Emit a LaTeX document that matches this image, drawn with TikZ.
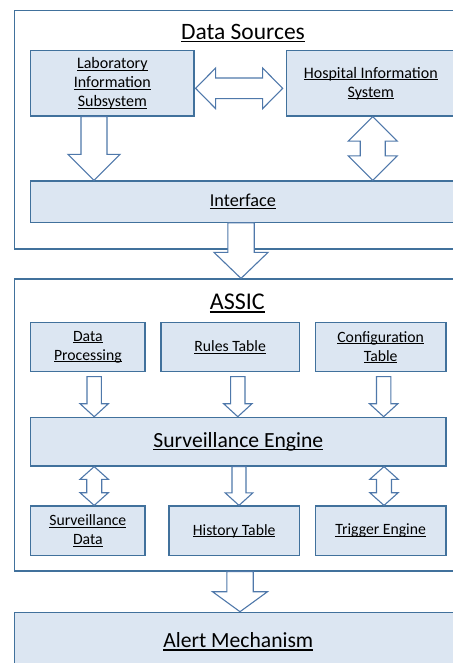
\documentclass[tikz,border=0pt]{standalone}
\usepackage{fontspec}
\setmainfont{Carlito}
\usetikzlibrary{calc}
\definecolor{lineBlue}{RGB}{65,113,156}
\definecolor{boxBlue}{RGB}{220,230,242}
\definecolor{arrowBlue}{RGB}{79,120,170}
\tikzstyle{canvas} = [x = 1pt, y = -1pt]
\tikzstyle{boxStyle} = [draw=lineBlue, fill=boxBlue, line width=1.2pt, align=center, inner sep=0pt]
\tikzstyle{frameStyle} = [draw=lineBlue, line width=1.2pt, inner sep=0pt]
\tikzstyle{blockArrowStyle} = [draw=arrowBlue, fill=white, line width=1.1pt, line join=miter]
\tikzstyle{sourceText} = [font=\fontsize{16}{19.2}\selectfont]
\tikzstyle{smallText} = [font=\fontsize{15.7}{19}\selectfont]
\tikzstyle{midText} = [font=\fontsize{18.2}{22}\selectfont]
\tikzstyle{bigText} = [font=\fontsize{21.6}{26}\selectfont]
\tikzstyle{titleText} = [font=\fontsize{23.5}{28}\selectfont]
\newcommand{\ulText}[1]{\leavevmode\setbox0\hbox{#1}\rlap{\vrule width \wd0 height -0.07em depth 0.125em}\box0}
\newcommand{\downBlockArrow}[5]{\draw [blockArrowStyle] let \p1 = (#1), \p2 = (#2) in (\x1 - #3pt, \y1) -- (\x1 - #3pt, \y2 + #5pt) -- (\x1 - #4pt, \y2 + #5pt) -- (\x1, \y2) -- (\x1 + #4pt, \y2 + #5pt) -- (\x1 + #3pt, \y2 + #5pt) -- (\x1 + #3pt, \y1) -- cycle;}
\newcommand{\doubleBlockArrow}[5]{\draw [blockArrowStyle] let \p1 = (#1), \p2 = (#2) in (\x1, \y1) -- (\x1 + #4pt, \y1 - #5pt) -- (\x1 + #3pt, \y1 - #5pt) -- (\x1 + #3pt, \y2 + #5pt) -- (\x1 + #4pt, \y2 + #5pt) -- (\x1, \y2) -- (\x1 - #4pt, \y2 + #5pt) -- (\x1 - #3pt, \y2 + #5pt) -- (\x1 - #3pt, \y1 - #5pt) -- (\x1 - #4pt, \y1 - #5pt) -- cycle;}
\newcommand{\sideBlockArrow}[5]{\draw [blockArrowStyle] let \p1 = (#1), \p2 = (#2) in (\x1, \y1) -- (\x1 + #5pt, \y1 + #4pt) -- (\x1 + #5pt, \y1 + #3pt) -- (\x2 - #5pt, \y1 + #3pt) -- (\x2 - #5pt, \y1 + #4pt) -- (\x2, \y1) -- (\x2 - #5pt, \y1 - #4pt) -- (\x2 - #5pt, \y1 - #3pt) -- (\x1 + #5pt, \y1 - #3pt) -- (\x1 + #5pt, \y1 - #4pt) -- cycle;}

\begin{document}
\begin{tikzpicture}[canvas]
              \useasboundingbox (0,0) rectangle (452,663);

              \node [frameStyle, minimum width=455.7pt, minimum height=238.3pt] (dsFrame) at (242.15,129.85) {};
              \node [titleText] (dsTitle) at (243,33) {\ulText{Data Sources}};
              \node [boxStyle, sourceText, minimum width=163.3pt, minimum height=65.3pt] (lab) at (112.35,83.35) {\ulText{Laboratory}\\\ulText{Information}\\\ulText{Subsystem}};
              \node [boxStyle, sourceText, minimum width=168.3pt, minimum height=65.3pt] (hosp) at (370.8,83.35) {\ulText{Hospital Information}\\\ulText{System}};
              \node [boxStyle, midText, minimum width=424.3pt, minimum height=41.3pt] (iface) at (242.85,201.65) {\ulText{Interface}};

              \node [frameStyle, minimum width=455.7pt, minimum height=292pt] (assicFrame) at (242.15,425) {};
              \node [titleText, font=\fontsize{24}{28}\selectfont] (assicTitle) at (237.3,303.3) {\ulText{ASSIC}};
              \node [boxStyle, smallText, minimum width=114.3pt, minimum height=49pt] (proc) at (87.85,347.2) {\ulText{Data}\\\ulText{Processing}};
              \node [boxStyle, smallText, minimum width=138.3pt, minimum height=49pt] (rules) at (230.15,347.2) {\ulText{Rules Table}};
              \node [boxStyle, smallText, minimum width=130.7pt, minimum height=49pt] (config) at (380.65,347.2) {\ulText{Configuration}\\\ulText{Table}};
              \node [boxStyle, bigText, minimum width=415.3pt, minimum height=48.7pt] (engine) at (238.35,441.65) {\ulText{Surveillance Engine}};
              \node [boxStyle, smallText, minimum width=114.3pt, minimum height=49.7pt] (survData) at (87.85,530.85) {\ulText{Surveillance}\\\ulText{Data}};
              \node [boxStyle, smallText, minimum width=130.3pt, minimum height=49.7pt] (history) at (234.15,530.85) {\ulText{History Table}};
              \node [boxStyle, smallText, minimum width=130.7pt, minimum height=49.7pt] (trigger) at (380.65,530.85) {\ulText{Trigger Engine}};

              \node [boxStyle, bigText, minimum width=448pt, minimum height=58.8pt] (alert) at (238.3,641.7) {\ulText{Alert Mechanism}};

              \coordinate (labSide) at ([xshift=1pt, yshift=-5pt]lab.east);
              \coordinate (hospSide) at ([xshift=-3.4pt, yshift=-5pt]hosp.west);
              \coordinate (labOut) at ([xshift=-18.35pt]lab.south);
              \coordinate (hospOut) at ([xshift=1.9pt]hosp.south);
              \coordinate (ifaceOut) at ([xshift=-1.85pt]iface.south);
              \coordinate (procOut) at ([xshift=6.35pt, yshift=-4.3pt]proc.south);
              \coordinate (rulesOut) at ([xshift=7.65pt, yshift=-4.3pt]rules.south);
              \coordinate (configOut) at ([xshift=3pt, yshift=-4.3pt]config.south);
              \coordinate (survIn) at ([xshift=6.35pt]survData.north);
              \coordinate (historyIn) at ([xshift=4.85pt]history.north);
              \coordinate (triggerIn) at ([xshift=3.35pt]trigger.north);
              \coordinate (assicOut) at ([xshift=-2.15pt]assicFrame.south);

              \sideBlockArrow{labSide}{hospSide}{10.3}{20.3}{20}
              \downBlockArrow{labOut}{labOut |- iface.north}{13}{26}{26}
              \doubleBlockArrow{hospOut}{hospOut |- iface.north}{12.5}{24.5}{24.5}
              \downBlockArrow{ifaceOut}{ifaceOut |- assicFrame.north}{13.2}{27}{26}
              \downBlockArrow{procOut}{procOut |- engine.north}{7.2}{14.2}{13}
              \downBlockArrow{rulesOut}{rulesOut |- engine.north}{7.2}{14.2}{13}
              \downBlockArrow{configOut}{configOut |- engine.north}{7.2}{14.2}{13}
              \doubleBlockArrow{survIn |- engine.south}{survIn}{7.5}{14.2}{12.7}
              \downBlockArrow{historyIn |- engine.south}{historyIn}{7}{13.8}{12.5}
              \doubleBlockArrow{triggerIn |- engine.south}{triggerIn}{7.5}{14.2}{12.7}
              \downBlockArrow{assicOut}{assicOut |- alert.north}{13.2}{27.5}{20}
            \end{tikzpicture}
\end{document}
